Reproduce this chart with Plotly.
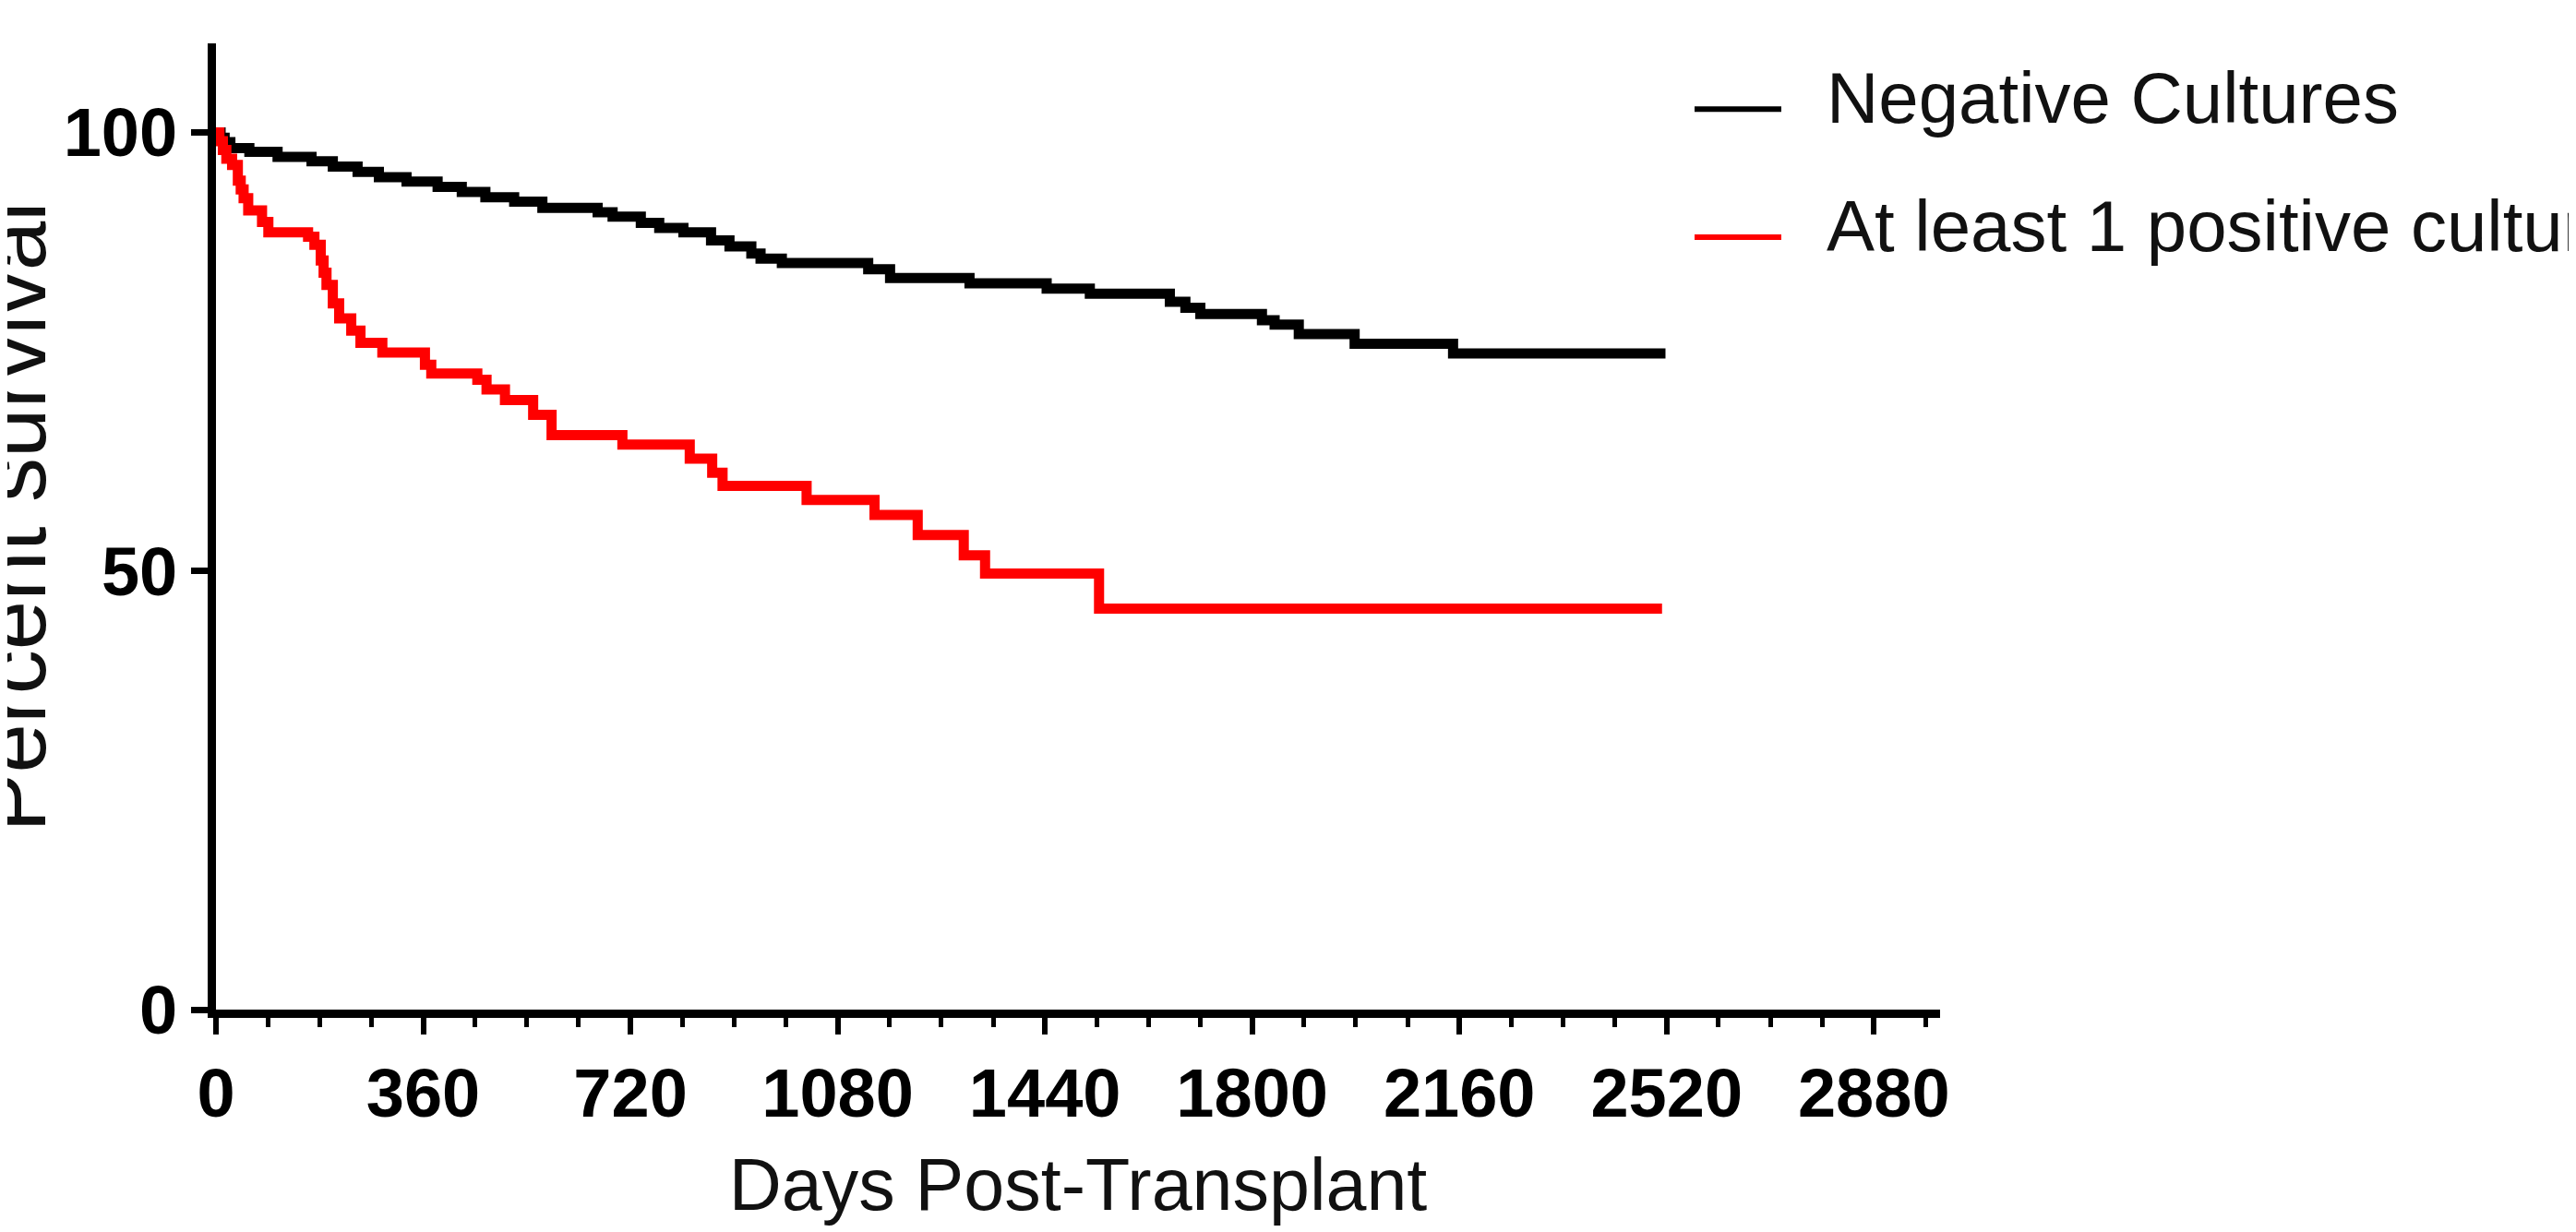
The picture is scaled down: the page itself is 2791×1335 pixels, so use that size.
import plotly.graph_objects as go

# ---- data ----
neg_days = [0, 8, 15, 25, 58, 107, 166, 203, 246, 283, 331, 385, 427, 468, 518, 567,
            663, 689, 738, 770, 812, 860, 892, 930, 946, 983, 1133, 1171, 1309, 1443,
            1518, 1657, 1684, 1710, 1817, 1839, 1881, 1978, 2149, 2518]
neg_surv = [100, 99.4, 98.9, 98.2, 97.8, 97.2, 96.7, 96.1, 95.5, 94.9, 94.4, 93.8, 93.2,
            92.6, 92.1, 91.4, 90.9, 90.4, 89.7, 89.1, 88.6, 87.7, 87.0, 86.2, 85.6, 85.1,
            84.4, 83.4, 82.8, 82.2, 81.6, 80.7, 80.0, 79.3, 78.6, 78.1, 77.0, 75.9, 74.8, 74.8]

pos_days = [0, 6, 12, 18, 28, 38, 43, 48, 56, 80, 91, 160, 171, 182, 187, 192, 203, 214,
            235, 251, 289, 363, 374, 454, 470, 502, 551, 583, 706, 823, 862, 880, 1026,
            1144, 1219, 1299, 1336, 1534, 2512]
pos_surv = [100, 99.0, 98.0, 97.0, 96.3, 94.5, 93.5, 92.5, 91.1, 89.8, 88.6, 88.1, 87.2,
            85.4, 84.0, 82.6, 80.5, 78.8, 77.4, 76.0, 74.9, 73.5, 72.5, 71.8, 70.7, 69.5,
            67.8, 65.5, 64.4, 62.8, 61.2, 59.7, 58.1, 56.4, 54.1, 51.8, 49.7, 45.7, 45.7]

series_names = ["Negative Cultures", "At least 1 positive cultures"]
series_colors = ["#000000", "#ff0000"]

x_tickvals = [0, 360, 720, 1080, 1440, 1800, 2160, 2520, 2880]
y_tickvals = [0, 50, 100]

FONT = "Liberation Sans, Arial, sans-serif"

fig = go.Figure()
for days, surv, name, col in [(neg_days, neg_surv, series_names[0], series_colors[0]),
                              (pos_days, pos_surv, series_names[1], series_colors[1])]:
    fig.add_trace(go.Scatter(x=days, y=surv, mode="lines", name=name,
                             line=dict(color=col, width=11, shape="hv"),
                             showlegend=False))

# manual legend (long line samples like the reference)
leg_y = [0.932, 0.7994]
for i, (name, col) in enumerate(zip(series_names, series_colors)):
    fig.add_shape(type="line", xref="paper", yref="paper",
                  x0=0.8576, x1=0.9079, y0=leg_y[i], y1=leg_y[i],
                  line=dict(color=col, width=6))
    fig.add_annotation(xref="paper", yref="paper", x=0.933, y=leg_y[i],
                       xanchor="left", yanchor="middle", yshift=12, showarrow=False,
                       text=name, font=dict(family=FONT, size=78, color="#111111"))

fig.add_annotation(xref="paper", yref="paper", x=0, y=0.51, xanchor="right",
                   yanchor="middle", xshift=-163, showarrow=False, textangle=-90,
                   text="Percent survival", font=dict(family=FONT, size=96, color="#111111"))

fig.update_layout(
    width=2791, height=1335,
    paper_bgcolor="white", plot_bgcolor="white",
    margin=dict(l=226, r=697, t=39, b=249, autoexpand=False),
    font=dict(family=FONT, color="#000000"),
    xaxis=dict(range=[0, 2995], tickmode="array", tickvals=x_tickvals,
               showline=True, linecolor="black", linewidth=9,
               ticks="outside", ticklen=18, tickwidth=6, tickcolor="black",
               minor=dict(dtick=90, tick0=0, ticks="outside", ticklen=10, tickwidth=5,
                          tickcolor="black", showgrid=False),
               tickfont=dict(family=FONT, size=74, color="black", weight="bold"),
               showgrid=False, zeroline=False,
               title=dict(text="Days Post-Transplant", standoff=34,
                          font=dict(family=FONT, size=79, color="#111111"))),
    yaxis=dict(range=[0, 110.15], tickmode="array", tickvals=y_tickvals,
               showline=True, linecolor="black", linewidth=9,
               ticks="outside", ticklen=18, tickwidth=7, tickcolor="black",
               tickfont=dict(family=FONT, size=74, color="black", weight="bold"),
               showgrid=False, zeroline=False),
)

fig.write_html("out.html")
